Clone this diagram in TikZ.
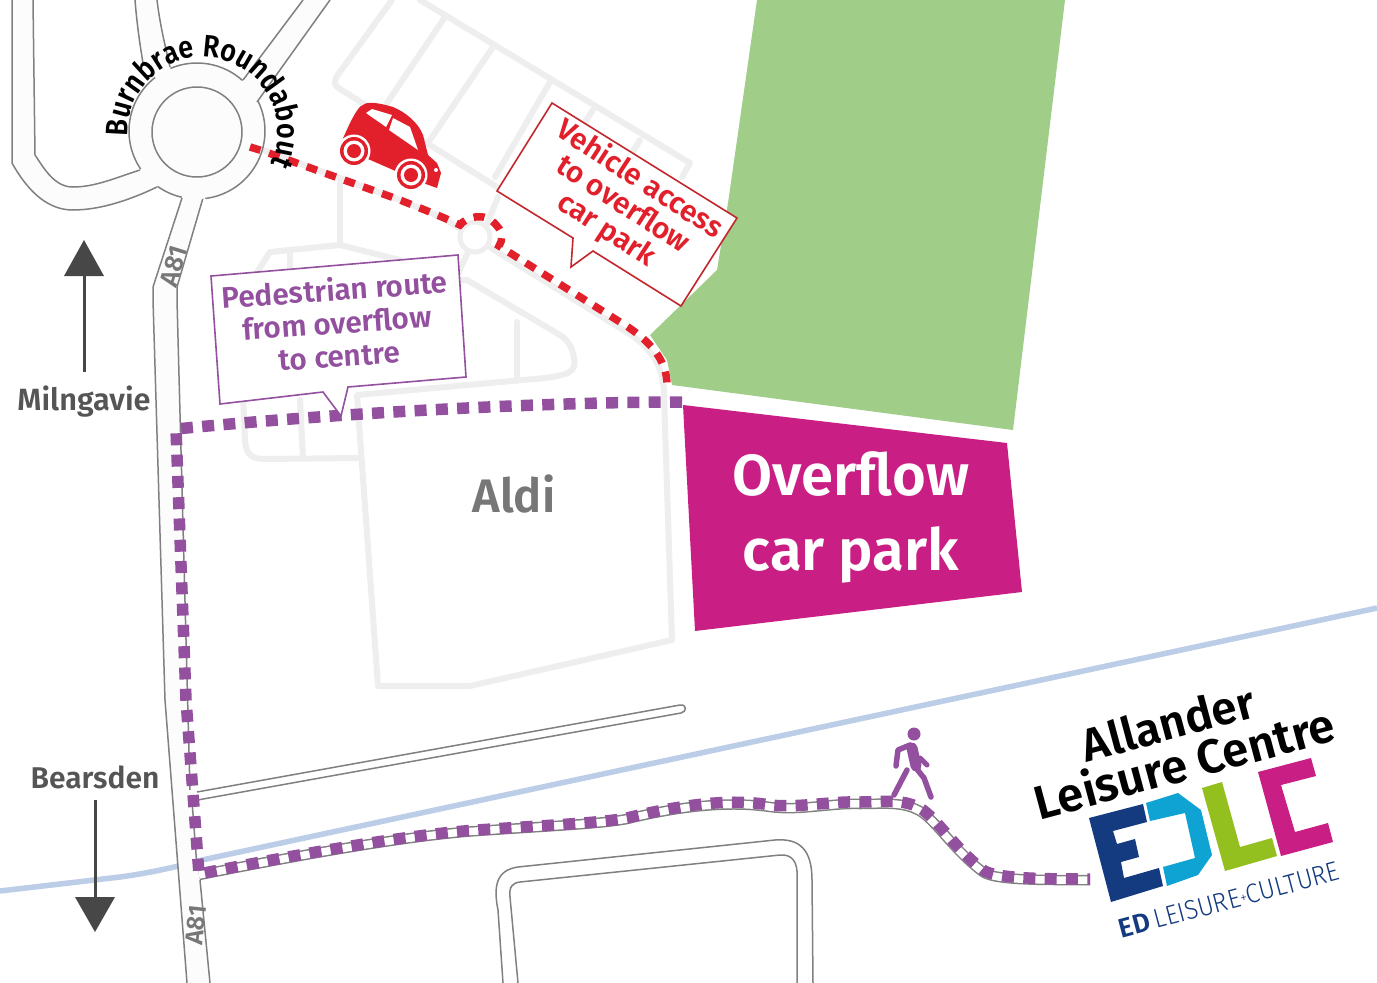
\documentclass[tikz,border=0pt]{standalone}
\usepackage{fontspec}
\setmainfont{Fira Sans}[BoldFont=Fira Sans SemiBold]
\newfontfamily\thinf{Fira Sans Light}[FakeStretch=0.92]
\newfontfamily\arcf{Fira Sans SemiBold}[FakeStretch=0.87]
\usetikzlibrary{decorations.text}
\definecolor{roadline}{HTML}{808080}
\definecolor{lightroad}{HTML}{EEEEEE}
\definecolor{roadfill}{HTML}{FCFCFC}
\definecolor{grass}{HTML}{A0CD88}
\definecolor{railway}{HTML}{BCCDE8}
\definecolor{routered}{HTML}{E2202C}
\definecolor{calloutred}{HTML}{C2272D}
\definecolor{routepurple}{HTML}{93509F}
\definecolor{parkpink}{HTML}{C91F84}
\definecolor{darkarrow}{HTML}{474747}
\definecolor{labelgrey}{HTML}{555555}
\definecolor{aldigrey}{HTML}{777777}
\definecolor{logoblue}{HTML}{143A7F}
\definecolor{logocyan}{HTML}{0FA3D4}
\definecolor{logogreen}{HTML}{93C01F}
\tikzset{
  roadedge/.style={draw=roadline,line width=1.5pt,line join=round},
  lightway/.style={draw=lightroad,line width=6pt,line join=round,line cap=round},
  txt/.style={inner sep=0pt,font=\bfseries\fontsize{#1}{#1}\selectfont},
  routep/.style={draw=routepurple,line width=11.5pt,dash pattern=on 12pt off 9.3pt},
  router/.style={draw=routered,line width=7.5pt,dash pattern=on 11pt off 9pt},
  callout/.style={fill=white,line width=1.6pt,line join=miter},
}
\newcommand{\walkroute}{(199,875) .. controls (270,861) and (400,836) .. (477,831) .. controls (550,826) and (600,824) .. (627,819) .. controls (680,806) and (730,801) .. (770,807) .. controls (800,811) and (830,803) .. (860,804) .. controls (885,804) and (905,801) .. (923,813) .. controls (940,826) and (955,851) .. (983,872) .. controls (995,881) and (1050,880) .. (1090,880)}
\begin{document}
\begin{tikzpicture}[x=1pt,y=-1pt]
\useasboundingbox (0,0) rectangle (1377,983);
\fill[white] (0,0) rectangle (1377,983);
% green
\fill[grass] (757,0) -- (1065,0) -- (1013,430) -- (672,385) -- (667,360) -- (650,335) -- (717,270) -- (728,203) -- cycle;
% railway
\draw[railway,line width=5.5pt] (0,891) -- (120,877) .. controls (150,873) and (180,866) .. (202,860) -- (1377,608);
% A81 surface
\fill[roadfill] (182,198) -- (153,287) -- (153,300) -- (165,700) -- (187,983) -- (210,983) -- (198,873) -- (177,300) -- (177,287) -- (203,198) -- cycle;
% light roads
\draw[lightway] (392,0) -- (337,76) .. controls (333,83) and (335,86) .. (340,89) -- (497,187);
\draw[lightway] (420,0) -- (690,163) -- (682,177);
\draw[lightway] (445,17) -- (387,103);
\draw[lightway] (493,47) -- (430,140);
\draw[lightway] (550,82) -- (495,177);
\draw[lightway] (593,110) -- (585,122);
\draw[lightway] (640,140) -- (632,153);
\draw[lightway] (498,197) -- (487,224);
\draw[lightway] (263,150) -- (400,200) .. controls (425,210) and (445,218) .. (463,231);
\draw[lightway] (491,248) -- (620,328) .. controls (650,345) and (664,365) .. (664,395) -- (672,640) -- (470,686) -- (378,686) -- (357,395) -- (545,378) .. controls (575,374) and (578,370) .. (572,350) .. controls (568,340) and (565,338) .. (555,332) -- (467,280) -- (455,280) -- (468,252);
\draw[lightway] (517,322) -- (517,380);
\draw[lightway] (340,180) -- (340,245);
\draw[lightway] (400,260) -- (340,245) -- (270,252) -- (252,280);
\draw[lightway] (290,254) -- (290,280);
\draw[lightway] (243,395) -- (245,440) .. controls (246,455) and (252,459) .. (265,459) -- (357,458);
\draw[lightway] (300,400) -- (303,458);
\draw[draw=lightroad,line width=5pt,fill=white] (475,237) circle[radius=15pt];
% side road
\draw[roadedge] (197,792) -- (680,705) .. controls (687,704) and (687,712) .. (681,713) -- (192,801);
% walking route road
\draw[roadline,line width=10.5pt] \walkroute;
\draw[white,line width=7.5pt] \walkroute;
% A81 edges
\draw[roadedge] (182,198) -- (153,287) -- (153,300) -- (165,700) -- (187,983);
\draw[roadedge] (203,198) -- (177,287) -- (177,300) -- (190,790);
\draw[roadedge] (192,801) -- (197,867);
\draw[roadedge] (200,880) -- (210,983);
% bottom block road
\draw[roadedge] (503,983) -- (498,910) .. controls (493,885) and (497,870) .. (518,867) -- (775,840) .. controls (800,838) and (812,850) .. (812,880) -- (813,983);
\draw[roadedge] (518,983) -- (510,897) .. controls (509,887) and (512,883) .. (520,882) -- (780,855) .. controls (792,854) and (798,862) .. (797,877) -- (797,983);
% roundabout
\fill[roadfill] (197,131) circle[radius=68pt];
\fill[roadfill] (12,0) -- (12,163) .. controls (30,195) and (50,210) .. (73,210) .. controls (100,210) and (130,200) .. (157,187) -- (140,170) .. controls (115,178) and (95,187) .. (73,187) .. controls (55,187) and (45,170) .. (35,155) -- (33,0) -- cycle;
\fill[roadfill] (135,0) .. controls (137,25) and (140,45) .. (143,66) -- (172,68) .. controls (165,45) and (160,25) .. (157,0) -- cycle;
\fill[roadfill] (303,0) -- (243,82) -- (257,104) -- (330,0) -- cycle;
\draw[roadedge] (12,0) -- (12,163) .. controls (30,195) and (50,210) .. (73,210) .. controls (100,210) and (130,200) .. (157,187);
\draw[roadedge] (33,0) -- (35,155) .. controls (45,170) and (55,187) .. (73,187) .. controls (95,187) and (115,178) .. (140,170);
\draw[roadedge] (135,0) .. controls (137,25) and (140,45) .. (143,63);
\draw[roadedge] (157,0) .. controls (160,25) and (165,45) .. (170,67);
\draw[roadedge] (303,0) -- (243,80);
\draw[roadedge] (330,0) -- (257,102);
\draw[roadedge] ([shift={(113:68pt)}]197,131) arc[start angle=113,end angle=48,radius=68pt];
\draw[roadedge] ([shift={(26:68pt)}]197,131) arc[start angle=26,end angle=-83,radius=68pt];
\draw[roadedge] ([shift={(-103:68pt)}]197,131) arc[start angle=-103,end angle=-125.5,radius=68pt];
\draw[roadedge] ([shift={(214:68pt)}]197,131) arc[start angle=214,end angle=128,radius=68pt];
\draw[roadedge] (197,132) circle[radius=45pt];
% routes
\draw[router] (250,147) -- (263,151) -- (400,200) .. controls (430,212) and (445,218) .. (460,225) .. controls (465,218) and (485,210) .. (497,226) .. controls (503,232) and (503,240) .. (499,246) -- (620,322) .. controls (650,340) and (667,360) .. (667,385);
\draw[routep] (682,402) .. controls (550,402) and (350,412) .. (176,429) -- (186,700) -- (199,874) .. controls (270,860) and (400,835) .. (477,830) .. controls (550,825) and (600,823) .. (627,818) .. controls (680,805) and (730,798) .. (770,805) .. controls (800,808) and (830,801) .. (860,802) .. controls (885,802) and (905,798) .. (923,810) .. controls (940,823) and (955,848) .. (983,870) .. controls (995,879) and (1050,879) .. (1090,879);
% Overflow car park
\fill[parkpink] (683,405) -- (1007,443) -- (1022,592) -- (695,631) -- cycle;
\node[txt=58,white] (overflow) at (851,474) {Overflow};
\node[txt=58,white] (carpark) at (851,555) {car park};
\node[txt=47,aldigrey] (aldi) at (514,494) {Aldi};
% callouts
\draw[callout,draw=calloutred] (552,103) -- (737,218) -- (681,306) -- (593,251) -- (571,267) -- (573,238) -- (497,191) -- cycle;
\node[inner sep=0pt,font=\bfseries\fontsize{29.5}{30}\selectfont,routered,rotate=-33,align=center] (vehicle) at (623,205) {Vehicle access\\to overflow\\car park};
\draw[callout,draw=routepurple] (211,276) -- (458,255) -- (466,377) -- (348,387) -- (341,416) -- (323,392) -- (220,404) -- cycle;
\node[inner sep=0pt,font=\bfseries\fontsize{29.7}{33}\selectfont,routepurple,rotate=4,align=center] (pedestrian) at (337,322) {Pedestrian route\\from overflow\\to centre};
% labels
\node[txt=30.7,labelgrey] (milngavie) at (84,402) {Milngavie};
\node[txt=30,labelgrey] (bearsden) at (95,777) {Bearsden};
\node[txt=26,aldigrey,rotate=73] (aeighttop) at (174,266) {A81};
\node[txt=25,aldigrey,rotate=84] (aeightbottom) at (196,925) {A81};
% arrows
\fill[darkarrow] (64,276) -- (84,240) -- (104,276) -- cycle;
\draw[darkarrow,line width=3pt] (84,276) -- (84,372);
\fill[darkarrow] (75,897) -- (95,932) -- (115,897) -- cycle;
\draw[darkarrow,line width=3pt] (95,800) -- (95,897);
% curved label
\path[decorate,decoration={text along path,text align=center,text={|\arcf\fontsize{31}{31}\selectfont|Burnbrae Roundabout}}] ([shift={(185:75pt)}]203,132) arc[start angle=185,end angle=-27,radius=75pt];
% car
\fill[routered] (339,147) -- (350,123) .. controls (355,113) and (360,105) .. (363,105) .. controls (367,101) and (380,103) .. (393,107) .. controls (405,112) and (418,122) .. (423,135) -- (428,155) -- (437,163) -- (441,173) -- (437,188) -- (423,183) -- (368,159) -- cycle;
\fill[white] (366,113) -- (372,109) -- (392,115) -- (386,127) -- cycle;
\fill[white] (393,118) -- (410,127) -- (418,150) -- (389,130) -- cycle;
\fill[white] (436,170) circle[radius=2pt];
\foreach \wx/\wy in {354/151,411/175}{
  \fill[white] (\wx,\wy) circle[radius=16.5pt];
  \fill[routered] (\wx,\wy) circle[radius=14pt];
  \fill[white] (\wx,\wy) circle[radius=10.5pt];
  \fill[routered] (\wx,\wy) circle[radius=7pt];
}
% walker
\fill[routepurple] (914,734) circle[radius=6.5pt];
\draw[routepurple,line width=5.5pt,line cap=round,line join=round] (910,745) -- (898,750) -- (896,766);
\draw[routepurple,line width=11pt,line cap=round] (912,748) -- (916,766);
\draw[routepurple,line width=5pt,line cap=round] (920,758) -- (927,765);
\draw[routepurple,line width=5.5pt,line cap=round] (907,770) -- (894,795);
\draw[routepurple,line width=5.5pt,line cap=round,line join=round] (916,768) -- (924,778) -- (931,797);
% title
\node[txt=46,black,rotate=15] (allander) at (1168,723) {Allander};
\node[txt=47.5,black,rotate=15] (leisure) at (1184,762) {Leisure Centre};
% logo
\fill[logoblue] (1089,818) -- (1143,804) -- (1147,822) -- (1113,831) -- (1117,844) -- (1135,839) -- (1139,857) -- (1121,862) -- (1124,878) -- (1159,868) -- (1163,886) -- (1111,902) -- cycle;
\fill[logocyan] (1146,803) -- (1178,793) -- (1201,810) -- (1212,855) -- (1198,875) -- (1167,886) -- (1163,867) -- (1195,858) -- (1185,813) -- (1150,821) -- cycle;
\fill[logogreen] (1202,788) -- (1222,782) -- (1240,847) -- (1272,838) -- (1277,856) -- (1225,871) -- cycle;
\fill[parkpink] (1258,772) -- (1311,758) -- (1316,776) -- (1281,785) -- (1295,832) -- (1328,823) -- (1333,842) -- (1281,856) -- cycle;
\node[inner sep=0pt,rotate=15,text=logoblue,font=\fontsize{27}{27}\selectfont] (edlc) at (1229,900) {{\bfseries ED}\,{\thinf LEISURE\raisebox{3pt}{\fontsize{15}{15}\selectfont+}CULTURE}};
\end{tikzpicture}
\end{document}
